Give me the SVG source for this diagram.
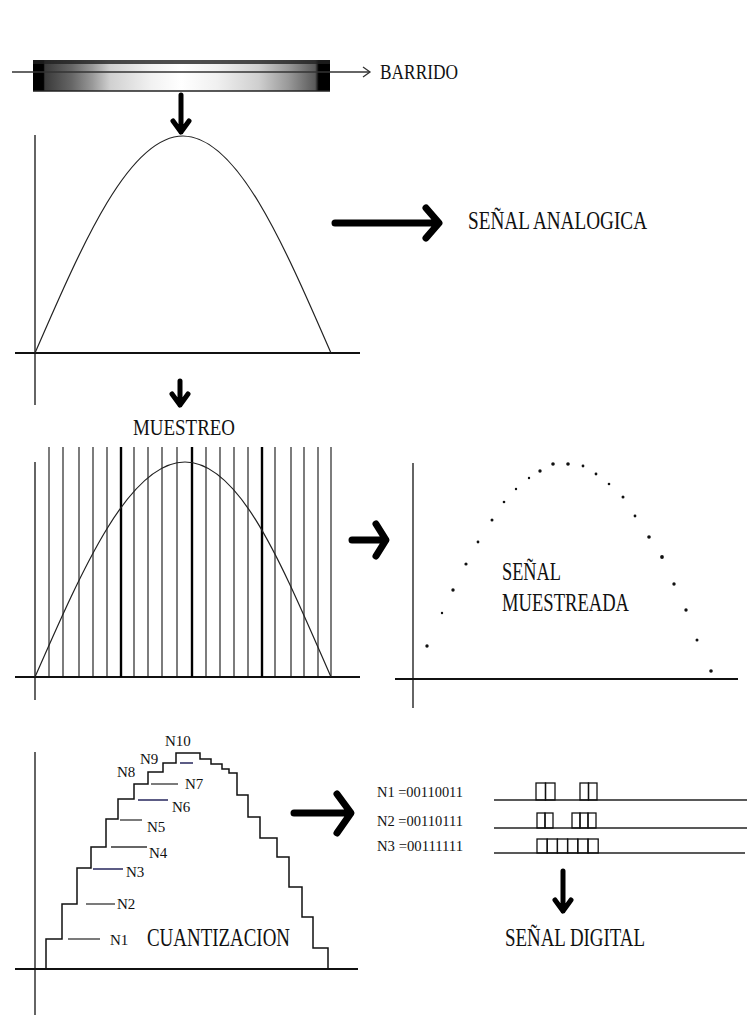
<svg xmlns="http://www.w3.org/2000/svg" width="747" height="1017" viewBox="0 0 747 1017">
<style>
  .t{font-family:"Liberation Serif","Times New Roman",serif;fill:#111;}
  .ax{stroke:#111;stroke-width:1.3;fill:none;}
  .axh{stroke:#111;stroke-width:2;fill:none;}
  .curve{stroke:#222;stroke-width:1.2;fill:none;}
  .big{stroke:#000;stroke-width:7;stroke-linecap:round;stroke-linejoin:round;fill:none;}
  .down{stroke:#000;stroke-width:5;stroke-linecap:round;stroke-linejoin:round;fill:none;}
  .samp{stroke:#111;stroke-width:1.1;}
  .sampb{stroke:#000;stroke-width:2.4;}
  .stair{stroke:#111;stroke-width:1.5;fill:none;}
  .lvl{stroke:#333;stroke-width:1.3;}
  .lvlb{stroke:#4a4a78;stroke-width:1.8;}
  .bit{fill:none;stroke:#111;stroke-width:1.3;}
  .dl{stroke:#222;stroke-width:1.6;}
</style>
<defs>
  <linearGradient id="barGrad" x1="0" y1="0" x2="1" y2="0">
    <stop offset="0" stop-color="#000"/>
    <stop offset="0.035" stop-color="#000"/>
    <stop offset="0.04" stop-color="#3a3a3a"/>
    <stop offset="0.13" stop-color="#666"/>
    <stop offset="0.2" stop-color="#999"/>
    <stop offset="0.26" stop-color="#d0d0d0"/>
    <stop offset="0.4" stop-color="#f2f2f2"/>
    <stop offset="0.5" stop-color="#fff"/>
    <stop offset="0.62" stop-color="#f0f0f0"/>
    <stop offset="0.76" stop-color="#cfcfcf"/>
    <stop offset="0.86" stop-color="#999"/>
    <stop offset="0.95" stop-color="#5a5a5a"/>
    <stop offset="0.962" stop-color="#000"/>
    <stop offset="1" stop-color="#000"/>
  </linearGradient>
</defs>
<rect width="747" height="1017" fill="#fff"/>

<g id="barrido">
  <rect x="33" y="60" width="297" height="31" fill="url(#barGrad)"/>
  <rect x="33" y="60" width="297" height="4" fill="#222" opacity="0.8"/>
  <line x1="33" y1="91" x2="330" y2="91" stroke="#222" stroke-width="1.5"/>
  <line x1="12" y1="72" x2="370" y2="72" stroke="#333" stroke-width="1.6"/>
  <path d="M363,67 L370,72 L363,77" stroke="#333" stroke-width="1.3" fill="none"/>
  <text class="t" x="380" y="79" font-size="20" textLength="78" lengthAdjust="spacingAndGlyphs">BARRIDO</text>
</g>

<g id="analog">
  <line class="ax" x1="35" y1="135" x2="35" y2="405"/>
  <line class="axh" x1="15" y1="353" x2="360" y2="353"/>
  <path class="curve" d="M35,353 C83.3,241.8 129.4,136 183,136 C236.6,136 282.7,241.8 331,353"/>
  <text class="t" x="468" y="229" font-size="26" textLength="179" lengthAdjust="spacingAndGlyphs">SEÑAL ANALOGICA</text>
</g>

<g id="muestreo">
  <text class="t" x="133" y="435" font-size="24" textLength="102" lengthAdjust="spacingAndGlyphs">MUESTREO</text>
  <line class="ax" x1="35" y1="462" x2="35" y2="700"/>
  <line class="axh" x1="15" y1="677" x2="360" y2="677"/>
  <g>
    <line class="samp" x1="49" y1="447" x2="49" y2="677"/>
    <line class="samp" x1="63" y1="447" x2="63" y2="677"/>
    <line class="samp" x1="79" y1="447" x2="79" y2="677"/>
    <line class="samp" x1="93" y1="447" x2="93" y2="677"/>
    <line class="samp" x1="107" y1="447" x2="107" y2="677"/>
    <line class="sampb" x1="121" y1="447" x2="121" y2="677"/>
    <line class="samp" x1="134" y1="447" x2="134" y2="677"/>
    <line class="samp" x1="148" y1="447" x2="148" y2="677"/>
    <line class="samp" x1="162" y1="447" x2="162" y2="677"/>
    <line class="samp" x1="177" y1="447" x2="177" y2="677"/>
    <line class="sampb" x1="192" y1="447" x2="192" y2="677"/>
    <line class="samp" x1="206" y1="447" x2="206" y2="677"/>
    <line class="samp" x1="220" y1="447" x2="220" y2="677"/>
    <line class="samp" x1="234" y1="447" x2="234" y2="677"/>
    <line class="samp" x1="248" y1="447" x2="248" y2="677"/>
    <line class="sampb" x1="262" y1="447" x2="262" y2="677"/>
    <line class="samp" x1="275" y1="447" x2="275" y2="677"/>
    <line class="samp" x1="291" y1="447" x2="291" y2="677"/>
    <line class="samp" x1="304" y1="447" x2="304" y2="677"/>
    <line class="samp" x1="318" y1="447" x2="318" y2="677"/>
    <line class="samp" x1="331" y1="447" x2="331" y2="677"/>
  </g>
  <path class="curve" d="M35,677 C83.3,566.9 129.4,462 185,462 C240.6,462 282.7,566.9 331,677"/>
</g>

<g id="muestreada">
  <line class="ax" x1="413" y1="463" x2="413" y2="708"/>
  <line class="axh" x1="395" y1="679" x2="738" y2="679"/>
  <g fill="#111">
    <circle cx="427" cy="646" r="1.7"/>
    <circle cx="442" cy="613" r="1.2"/>
    <circle cx="453" cy="590" r="1.7"/>
    <circle cx="466" cy="564" r="1.6"/>
    <circle cx="478" cy="542" r="1.4"/>
    <circle cx="492" cy="520" r="1.5"/>
    <circle cx="504" cy="502" r="1.3"/>
    <circle cx="516" cy="489" r="1.2"/>
    <circle cx="529" cy="478" r="1.2"/>
    <circle cx="540" cy="471" r="1.7"/>
    <circle cx="553" cy="464" r="1.8"/>
    <circle cx="568" cy="464" r="1.8"/>
    <circle cx="583" cy="466" r="1.4"/>
    <circle cx="596" cy="474" r="1.4"/>
    <circle cx="609" cy="484" r="1.3"/>
    <circle cx="623" cy="497" r="1.5"/>
    <circle cx="635" cy="516" r="1.4"/>
    <circle cx="649" cy="537" r="1.8"/>
    <circle cx="662" cy="557" r="1.9"/>
    <circle cx="674" cy="584" r="1.7"/>
    <circle cx="686" cy="610" r="1.7"/>
    <circle cx="697" cy="640" r="1.5"/>
    <circle cx="711" cy="671" r="1.8"/>
  </g>
  <text class="t" x="502" y="580" font-size="25" textLength="59" lengthAdjust="spacingAndGlyphs">SEÑAL</text>
  <text class="t" x="502" y="611" font-size="25" textLength="127" lengthAdjust="spacingAndGlyphs">MUESTREADA</text>
</g>

<g id="cuantizacion">
  <line class="ax" x1="35" y1="752" x2="35" y2="1015"/>
  <line class="axh" x1="15" y1="969" x2="358" y2="969"/>
  <path class="stair" d="M46,969 V939 H62 V904 H77 V868 H91 V847 H106 V819 H118 V799 H134 V784 H148 V772 H163 V763 H176 V753 H200 V759 H211 V764 H222 V769 H229 V773 H237 V795 H248 V817 H260 V838 H277 V857 H289 V887 H302 V917 H313 V948 H328 V969"/>
  <line class="lvl" x1="68" y1="939" x2="100" y2="939"/>
  <line class="lvl" x1="86" y1="904" x2="115" y2="904"/>
  <line class="lvlb" x1="93" y1="869" x2="123" y2="869"/>
  <line class="lvl" x1="111" y1="847" x2="147" y2="847"/>
  <line class="lvl" x1="120" y1="820" x2="142" y2="820"/>
  <line class="lvlb" x1="138" y1="800" x2="168" y2="800"/>
  <line class="lvl" x1="151" y1="784" x2="178" y2="784"/>
  <line class="lvlb" x1="180" y1="763" x2="193" y2="763"/>
  <g class="t" font-size="15">
    <text x="110" y="945">N1</text>
    <text x="117" y="909">N2</text>
    <text x="126" y="877">N3</text>
    <text x="149" y="858">N4</text>
    <text x="147" y="832">N5</text>
    <text x="172" y="812">N6</text>
    <text x="185" y="789">N7</text>
    <text x="117" y="777">N8</text>
    <text x="140" y="764">N9</text>
    <text x="165" y="746">N10</text>
  </g>
  <text class="t" x="147" y="946" font-size="25" textLength="143" lengthAdjust="spacingAndGlyphs">CUANTIZACION</text>
</g>

<g id="digital">
  <g class="t" font-size="15">
    <text x="377" y="797" textLength="86" lengthAdjust="spacingAndGlyphs">N1 =00110011</text>
    <text x="377" y="826" textLength="86" lengthAdjust="spacingAndGlyphs">N2 =00110111</text>
    <text x="377" y="851" textLength="86" lengthAdjust="spacingAndGlyphs">N3 =00111111</text>
  </g>
  <line class="dl" x1="494" y1="800" x2="747" y2="800"/>
  <line class="dl" x1="494" y1="828" x2="747" y2="828"/>
  <line class="dl" x1="494" y1="853" x2="745" y2="853"/>
  <rect class="bit" x="536" y="783" width="9.5" height="17"/>
  <rect class="bit" x="545.5" y="783" width="9.5" height="17"/>
  <rect class="bit" x="580" y="783" width="8.5" height="17"/>
  <rect class="bit" x="588.5" y="783" width="8.5" height="17"/>
  <rect class="bit" x="537" y="813" width="8" height="15"/>
  <rect class="bit" x="545" y="813" width="8" height="15"/>
  <rect class="bit" x="572" y="813" width="8" height="15"/>
  <rect class="bit" x="580" y="813" width="8" height="15"/>
  <rect class="bit" x="588" y="813" width="8" height="15"/>
  <rect class="bit" x="537" y="839" width="10.2" height="14"/>
  <rect class="bit" x="547.2" y="839" width="10.2" height="14"/>
  <rect class="bit" x="557.4" y="839" width="10.2" height="14"/>
  <rect class="bit" x="567.6" y="839" width="10.2" height="14"/>
  <rect class="bit" x="577.8" y="839" width="10.2" height="14"/>
  <rect class="bit" x="588" y="839" width="10.2" height="14"/>
  <text class="t" x="505" y="946" font-size="26" textLength="140" lengthAdjust="spacingAndGlyphs">SEÑAL DIGITAL</text>
</g>

<g id="connectors">
  <path class="down" d="M181,95 V132 M173,121 L181,132 L189,121"/>
  <path class="big" d="M335,223 H438 M426,208 L439,223 L426,238"/>
  <path class="down" d="M180,381 V405 M172,394 L180,405 L188,394"/>
  <path class="big" d="M352,540 H385 M376,524 L386,540 L376,556"/>
  <path class="big" d="M294,813 H350 M337,794 L351,813 L337,833"/>
  <path class="down" d="M563,871 V911 M555,900 L563,911 L571,900"/>
</g>
</svg>
